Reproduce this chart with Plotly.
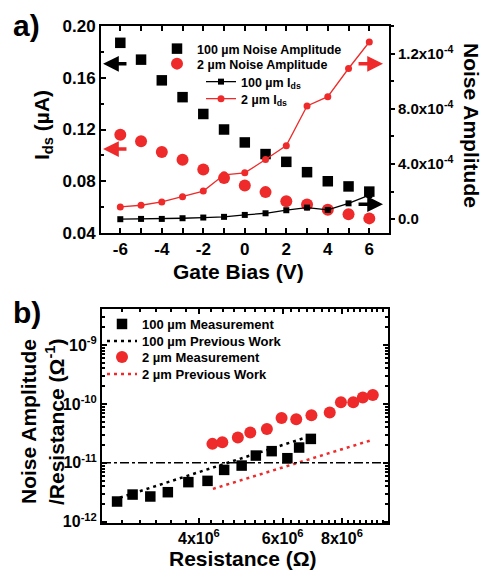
import plotly.graph_objects as go

W, H = 483, 570
FONT = "Liberation Sans"

# ---------------- panel a data ----------------
gate_bias = [-6, -5, -4, -3, -2, -1, 0, 1, 2, 3, 4, 5, 6]
noise_100um = [0.187, 0.174, 0.158, 0.145, 0.132, 0.120, 0.110, 0.101, 0.095, 0.087, 0.080, 0.076, 0.072]
noise_2um = [0.116, 0.111, 0.1026, 0.0966, 0.089, 0.0826, 0.0768, 0.0716, 0.0645, 0.062, 0.058, 0.0545, 0.0513]
ids_100um = [0.0, 0.02, 0.02, 0.07, 0.12, 0.17, 0.31, 0.43, 0.65, 0.84, 0.67, 1.15, 1.75]
ids_2um = [0.89, 1.01, 1.25, 1.63, 2.04, 3.22, 3.36, 4.32, 5.33, 8.21, 8.88, 10.92, 12.84]
right_tickvals = [0, 4, 8, 12]
right_ticktext = ["0.0", "4.0x10<sup>-4</sup>", "8.0x10<sup>-4</sup>", "1.2x10<sup>-4</sup>"]

# ---------------- panel b data ----------------
res_100um = [2.69e6, 2.90e6, 3.16e6, 3.44e6, 3.80e6, 4.17e6, 4.52e6, 4.92e6, 5.27e6, 5.69e6, 6.14e6, 6.50e6, 6.88e6]
meas_100um = [2.21e-12, 2.90e-12, 2.69e-12, 3.18e-12, 4.71e-12, 4.95e-12, 7.6e-12, 9.0e-12, 1.33e-11, 1.58e-11, 1.20e-11, 1.82e-11, 2.55e-11]
res_2um = [4.27e6, 4.48e6, 4.83e6, 5.13e6, 5.56e6, 5.97e6, 6.41e6, 6.90e6, 7.54e6, 7.96e6, 8.45e6, 8.85e6, 9.29e6]
meas_2um = [2.10e-11, 2.24e-11, 2.69e-11, 3.27e-11, 3.77e-11, 5.79e-11, 5.50e-11, 6.43e-11, 7.13e-11, 1.07e-10, 1.07e-10, 1.28e-10, 1.42e-10]
prev_100um_x = [2.64e6, 6.75e6]
prev_100um_y = [2.36e-12, 2.73e-11]
prev_2um_x = [4.28e6, 9.31e6]
prev_2um_y = [3.62e-12, 2.48e-11]
threshold = 1e-11
b_xtickvals = [4e6, 6e6, 8e6]
b_xticktext = ["4x10<sup>6</sup>", "6x10<sup>6</sup>", "8x10<sup>6</sup>"]
b_ytickvals = [1e-12, 1e-11, 1e-10, 1e-9]
b_yticktext = ["10<sup>-12</sup>", "10<sup>-11</sup>", "10<sup>-10</sup>", "10<sup>-9</sup>"]

BLACK = "#000000"
RED = "#EE2A2A"


def px(x):
    return x / W


def py(y):
    return 1 - y / H


fig = go.Figure()

# panel a traces
fig.add_trace(go.Scatter(x=gate_bias, y=noise_100um, mode="markers", name="100 µm Noise Amplitude",
                         marker=dict(symbol="square", size=10.5, color=BLACK), xaxis="x", yaxis="y",
                         legend="legend"))
fig.add_trace(go.Scatter(x=gate_bias, y=noise_2um, mode="markers", name="2 µm Noise Amplitude",
                         marker=dict(symbol="circle", size=12, color=RED), xaxis="x", yaxis="y",
                         legend="legend2"))
fig.add_trace(go.Scatter(x=gate_bias, y=ids_100um, mode="lines+markers", name="100 µm I<sub>ds</sub>",
                         marker=dict(symbol="square", size=6, color=BLACK), line=dict(color=BLACK, width=1.3),
                         xaxis="x", yaxis="y2", legend="legend3"))
fig.add_trace(go.Scatter(x=gate_bias, y=ids_2um, mode="lines+markers", name="2 µm I<sub>ds</sub>",
                         marker=dict(symbol="circle", size=7, color=RED), line=dict(color=RED, width=1.3),
                         xaxis="x", yaxis="y2", legend="legend4"))

# panel b traces
fig.add_trace(go.Scatter(x=res_100um, y=meas_100um, mode="markers", name="100 µm Measurement",
                         marker=dict(symbol="square", size=10.5, color=BLACK), xaxis="x3", yaxis="y3",
                         legend="legend5"))
fig.add_trace(go.Scatter(x=prev_100um_x, y=prev_100um_y, mode="lines", name="100 µm Previous Work",
                         line=dict(color=BLACK, width=2.5, dash="3px,4px"), xaxis="x3", yaxis="y3",
                         legend="legend6"))
fig.add_trace(go.Scatter(x=res_2um, y=meas_2um, mode="markers", name="2 µm Measurement",
                         marker=dict(symbol="circle", size=12, color=RED), xaxis="x3", yaxis="y3",
                         legend="legend7"))
fig.add_trace(go.Scatter(x=prev_2um_x, y=prev_2um_y, mode="lines", name="2 µm Previous Work",
                         line=dict(color=RED, width=2.5, dash="3px,4px"), xaxis="x3", yaxis="y3",
                         legend="legend8"))

fig.add_shape(type="line", xref="x3 domain", yref="y3", x0=0, x1=1, y0=threshold, y1=threshold,
              line=dict(color=BLACK, width=1.5, dash="dashdot"))

tickfont_a = dict(family=FONT, size=17, color=BLACK, weight="bold")
tickfont_r = dict(family=FONT, size=15, color=BLACK, weight="bold")
tickfont_b = dict(family=FONT, size=16, color=BLACK, weight="bold")
legfont_a = dict(family=FONT, size=12.5, color=BLACK, weight="bold")
legfont_b = dict(family=FONT, size=13, color=BLACK, weight="bold")

axis_common = dict(showline=True, linewidth=2, linecolor=BLACK, showgrid=False, zeroline=False,
                   ticks="inside", tickwidth=1.5, tickcolor=BLACK, ticklen=5, automargin=False)


def leg(xpage, ypage, font):
    return dict(x=px(xpage), y=py(ypage), xanchor="left", yanchor="middle", bgcolor="rgba(0,0,0,0)",
                font=font, borderwidth=0, itemsizing="trace")


fig.update_layout(
    width=W, height=H, margin=dict(l=0, r=0, t=0, b=0, pad=0, autoexpand=False),
    paper_bgcolor="white", plot_bgcolor="white",
    xaxis=dict(domain=[px(101), px(389)], anchor="y", range=[-6.93, 6.95], tickvals=[-6, -4, -2, 0, 2, 4, 6],
               ticktext=["-6", "-4", "-2", "0", "2", "4", "6"], tickfont=tickfont_a, mirror="allticks",
               minor=dict(dtick=1, tick0=0, ticks="inside", ticklen=3, tickcolor=BLACK), **axis_common),
    yaxis=dict(domain=[py(233), py(26)], anchor="x", range=[0.04, 0.20], tickvals=[0.04, 0.08, 0.12, 0.16, 0.20],
               ticktext=["0.04", "0.08", "0.12", "0.16", "0.20"], tickfont=tickfont_a, mirror=True,
               minor=dict(dtick=0.02, tick0=0, ticks="inside", ticklen=3, tickcolor=BLACK), **axis_common),
    yaxis2=dict(overlaying="y", side="right", anchor="x", range=[-1, 14], tickvals=right_tickvals,
                ticktext=right_ticktext, showline=True, linewidth=2, linecolor=BLACK, showgrid=False,
                zeroline=False, ticks="outside", ticklen=4, tickwidth=1.5, tickcolor=BLACK, tickfont=tickfont_r,
                automargin=False,
                minor=dict(dtick=2, tick0=0, ticks="outside", ticklen=3, tickcolor=BLACK)),
    xaxis3=dict(domain=[px(102), px(388)], anchor="y3", type="log", range=[6.398, 7.0],
                tickvals=b_xtickvals, ticktext=b_xticktext, tickfont=tickfont_b, mirror="allticks",
                minor=dict(dtick="L250000", tick0=2.5e6, ticks="inside", ticklen=3, tickcolor=BLACK),
                **axis_common),
    yaxis3=dict(domain=[py(523), py(309)], anchor="x3", type="log", range=[-12.02, -8.39],
                tickvals=b_ytickvals, ticktext=b_yticktext, tickfont=tickfont_b, mirror="allticks",
                minor=dict(dtick="D1", ticks="inside", ticklen=3, tickcolor=BLACK), **axis_common),
    showlegend=True,
    legend=leg(157, 49, legfont_a),
    legend2=leg(157, 64, legfont_a),
    legend3=leg(201, 82, legfont_a),
    legend4=leg(201, 99, legfont_a),
    legend5=leg(102, 324, legfont_b),
    legend6=leg(102, 341, legfont_b),
    legend7=leg(102, 357, legfont_b),
    legend8=leg(102, 374, legfont_b),
)

ann = []
title_font = dict(family=FONT, size=21, color=BLACK, weight="bold")


def label(text, xp, yp, angle=0, font=title_font):
    return dict(text=text, x=px(xp), y=py(yp), xref="paper", yref="paper", showarrow=False,
                textangle=angle, xanchor="center", yanchor="middle", font=font)


panel_font = dict(family=FONT, size=30, color=BLACK, weight="bold")
ann.append(label("a)", 26, 25, font=panel_font))
ann.append(label("b)", 27, 312, font=panel_font))
ann.append(label("I<sub>ds</sub> (µA)", 43, 125, -90))
ann.append(label("Noise Amplitude", 472, 125, 90))
ann.append(label("Gate Bias (V)", 238, 272))
ann.append(label("Noise Amplitude", 28, 422, -90))
ann.append(label("/Resistance (Ω<sup>-1</sup>)", 55, 422, -90))
ann.append(label("Resistance (Ω)", 243, 558))

# direction arrows (panel a)
arrow_style = dict(showarrow=True, arrowhead=2, arrowsize=0.9, arrowwidth=3.5, text="", xref="x", yref="y",
                   axref="x", ayref="y")
ann.append(dict(x=-6.83, y=0.1708, ax=-5.63, ay=0.1708, arrowcolor=BLACK, **arrow_style))
ann.append(dict(x=-6.83, y=0.1049, ax=-5.63, ay=0.1049, arrowcolor=RED, **arrow_style))
ann.append(dict(x=6.66, y=0.1708, ax=5.41, ay=0.1708, arrowcolor=RED, **arrow_style))
ann.append(dict(x=6.66, y=0.0623, ax=5.41, ay=0.0623, arrowcolor=BLACK, **arrow_style))

fig.update_layout(annotations=ann)

fig.write_html("out.html", config={"displayModeBar": False},
               post_script="document.body.style.margin='0';document.body.style.padding='0';"
                           "document.documentElement.style.margin='0';")
